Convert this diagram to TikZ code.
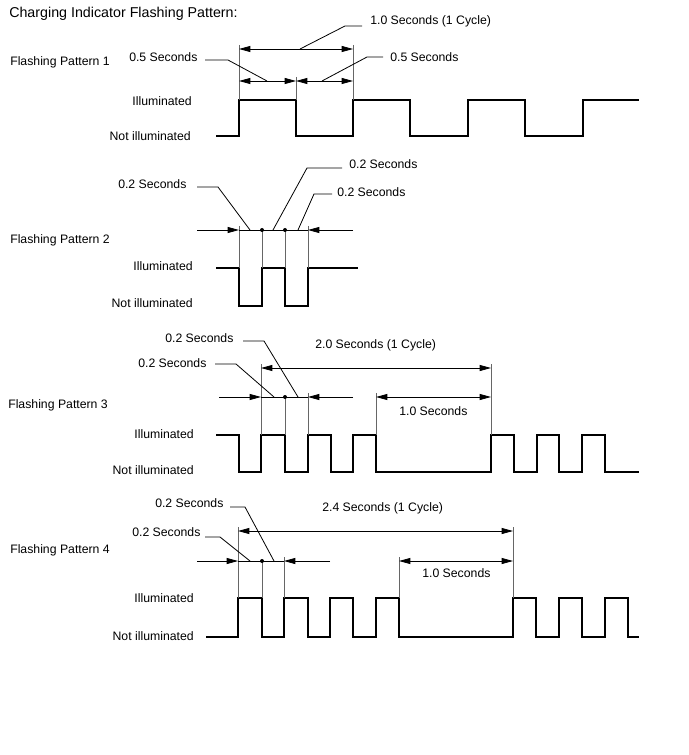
\documentclass[tikz,border=0pt]{standalone}
\usepackage{fontspec}
\setmainfont{Liberation Sans}
\usepackage{tikz}
\usetikzlibrary{arrows.meta}

\tikzset{
  lbl/.style={anchor=west, inner sep=0pt, font=\fontsize{9.2pt}{10pt}\selectfont},
  rlbl/.style={anchor=east, inner sep=0pt, font=\fontsize{9.2pt}{10pt}\selectfont},
  wave/.style={line width=2.1pt, line join=miter, line cap=rect},
  dimline/.style={line width=0.6pt},
  extline/.style={line width=0.5pt, black!60},
  leadline/.style={line width=0.6pt},
  pt/.style={circle, fill, inner sep=0pt, minimum size=3pt}
}

\begin{document}
\begin{tikzpicture}[x=0.75pt, y=-0.75pt, >={Triangle[length=8.5pt,width=4.5pt]}]
\useasboundingbox (0,0) rectangle (688,755);
\node [anchor=west, inner sep=0pt, font=\fontsize{10.7pt}{12pt}\selectfont] (title) at (9,14) {Charging Indicator Flashing Pattern:};

	% Pattern 1
\node [lbl] (f1) at (10,62) {Flashing Pattern 1};
\node [rlbl] (on1) at (192,101) {Illuminated};
\node [rlbl] (off1) at (191,136) {Not illuminated};
\node [lbl] (c1) at (370,21) {1.0 Seconds (1 Cycle)};
\node [lbl] (h1) at (129,57) {0.5 Seconds};
\node [lbl] (h2) at (390,57) {0.5 Seconds};
\draw [wave] (217,136) -- (239,136) -- (239,100) -- (296,100) -- (296,136) -- (353,136) -- (353,100) -- (410,100) -- (410,136) -- (468,136) -- (468,100) -- (525,100) -- (525,136) -- (583,136) -- (583,100) -- (638,100);
\coordinate (e1) at (239,45);
\coordinate (e2) at (353,45);
\coordinate (e3) at (296,77);
\coordinate (e1b) at (239,100);
\coordinate (e2b) at (353,100);
\coordinate (e3b) at (296,100);
\draw [extline] (e1) -- (e1b);
\draw [extline] (e2) -- (e2b);
\draw [extline] (e3) -- (e3b);
\coordinate (d1) at (239,49);
\coordinate (d2) at (353,49);
\coordinate (d3) at (239,81);
\coordinate (d4) at (296,81);
\coordinate (d5) at (353,81);
\draw [dimline, <->] (d1) -- (d2);
\draw [dimline, <->] (d3) -- (d4);
\draw [dimline, <->] (d4) -- (d5);
\coordinate (k1) at (362,26);
\coordinate (k2) at (345,26);
\coordinate (k3) at (300,49);
\draw [leadline] (k1) -- (k2) -- (k3);
\coordinate (k4) at (205,60);
\coordinate (k5) at (228,60);
\coordinate (k6) at (267,81);
\draw [leadline] (k4) -- (k5) -- (k6);
\coordinate (k7) at (383,57);
\coordinate (k8) at (367,57);
\coordinate (k9) at (322,81);
\draw [leadline] (k7) -- (k8) -- (k9);

	% Pattern 2
\node [lbl] (f2) at (10,240) {Flashing Pattern 2};
\node [rlbl] (on2) at (193,266) {Illuminated};
\node [rlbl] (off2) at (193,303) {Not illuminated};
\node [lbl] (t1) at (118,184) {0.2 Seconds};
\node [lbl] (t2) at (349,164) {0.2 Seconds};
\node [lbl] (t3) at (337,192) {0.2 Seconds};
\draw [wave] (217,268) -- (239,268) -- (239,306) -- (262,306) -- (262,268) -- (285,268) -- (285,306) -- (308,306) -- (308,268) -- (357,268);
\coordinate (u1) at (239,226);
\coordinate (u2) at (262,230);
\coordinate (u3) at (285,230);
\coordinate (u4) at (308,226);
\coordinate (u1b) at (239,268);
\coordinate (u2b) at (262,268);
\coordinate (u3b) at (285,268);
\coordinate (u4b) at (308,268);
\draw [extline] (u1) -- (u1b);
\draw [extline] (u2) -- (u2b);
\draw [extline] (u3) -- (u3b);
\draw [extline] (u4) -- (u4b);
\coordinate (g1) at (197,230);
\coordinate (g2) at (239,230);
\coordinate (g3) at (308,230);
\coordinate (g4) at (353,230);
\draw [dimline, ->] (g1) -- (g2);
\draw [dimline] (g2) -- (g3);
\draw [dimline, ->] (g4) -- (g3);
\node [pt] (p1) at (u2) {};
\node [pt] (p2) at (u3) {};
\coordinate (m1) at (197,187);
\coordinate (m2) at (218,187);
\coordinate (m3) at (250,230);
\draw [leadline] (m1) -- (m2) -- (m3);
\coordinate (m4) at (342,168);
\coordinate (m5) at (307,168);
\coordinate (m6) at (273,230);
\draw [leadline] (m4) -- (m5) -- (m6);
\coordinate (m7) at (332,194);
\coordinate (m8) at (314,194);
\coordinate (m9) at (298,230);
\draw [leadline] (m7) -- (m8) -- (m9);

	% Pattern 3
\node [lbl] (f3) at (8,405) {Flashing Pattern 3};
\node [rlbl] (on3) at (194,434) {Illuminated};
\node [rlbl] (off3) at (194,470) {Not illuminated};
\node [lbl] (r1) at (165,338) {0.2 Seconds};
\node [lbl] (r2) at (138,363) {0.2 Seconds};
\node [lbl] (c3) at (315,345) {2.0 Seconds (1 Cycle)};
\node [lbl] (o3) at (399,411) {1.0 Seconds};
\draw [wave] (217,435) -- (239,435) -- (239,472) -- (261,472) -- (261,435) -- (285,435) -- (285,472) -- (308,472) -- (308,435) -- (331,435) -- (331,472) -- (353,472) -- (353,435) -- (376,435) -- (376,472) -- (491,472) -- (491,435) -- (514,435) -- (514,472) -- (537,472) -- (537,435) -- (559,435) -- (559,472) -- (582,472) -- (582,435) -- (605,435) -- (605,472) -- (638,472);
\coordinate (v1) at (261,364);
\coordinate (v2) at (285,397);
\coordinate (v3) at (308,393);
\coordinate (v4) at (376,393);
\coordinate (v5) at (491,364);
\coordinate (v1b) at (261,435);
\coordinate (v2b) at (285,435);
\coordinate (v3b) at (308,435);
\coordinate (v4b) at (376,435);
\coordinate (v5b) at (491,435);
\draw [extline] (v1) -- (v1b);
\draw [extline] (v2) -- (v2b);
\draw [extline] (v3) -- (v3b);
\draw [extline] (v4) -- (v4b);
\draw [extline] (v5) -- (v5b);
\coordinate (w1) at (219,397);
\coordinate (w2) at (261,397);
\coordinate (w3) at (308,397);
\coordinate (w4) at (353,397);
\draw [dimline, ->] (w1) -- (w2);
\draw [dimline] (w2) -- (w3);
\draw [dimline, ->] (w4) -- (w3);
\node [pt] (p3) at (v2) {};
\coordinate (w5) at (261,368);
\coordinate (w6) at (491,368);
\draw [dimline, <->] (w5) -- (w6);
\coordinate (w7) at (376,397);
\coordinate (w8) at (491,397);
\draw [dimline, <->] (w7) -- (w8);
\coordinate (q1) at (243,341);
\coordinate (q2) at (264,341);
\coordinate (q3) at (298,397);
\draw [leadline] (q1) -- (q2) -- (q3);
\coordinate (q4) at (215,364);
\coordinate (q5) at (236,364);
\coordinate (q6) at (274,397);
\draw [leadline] (q4) -- (q5) -- (q6);

	% Pattern 4
\node [lbl] (f4) at (10,550) {Flashing Pattern 4};
\node [rlbl] (on4) at (194,598) {Illuminated};
\node [rlbl] (off4) at (194,636) {Not illuminated};
\node [lbl] (s1) at (155,503) {0.2 Seconds};
\node [lbl] (s2) at (132,532) {0.2 Seconds};
\node [lbl] (c4) at (322,508) {2.4 Seconds (1 Cycle)};
\node [lbl] (o4) at (422,573) {1.0 Seconds};
\draw [wave] (207,637) -- (238,637) -- (238,598) -- (262,598) -- (262,637) -- (284,637) -- (284,598) -- (308,598) -- (308,637) -- (330,637) -- (330,598) -- (353,598) -- (353,637) -- (376,637) -- (376,598) -- (399,598) -- (399,637) -- (513,637) -- (513,598) -- (536,598) -- (536,637) -- (559,637) -- (559,598) -- (582,598) -- (582,637) -- (605,637) -- (605,598) -- (628,598) -- (628,637) -- (638,637);
\coordinate (x1) at (238,527);
\coordinate (x2) at (262,561);
\coordinate (x3) at (284,557);
\coordinate (x4) at (399,557);
\coordinate (x5) at (513,527);
\coordinate (x1b) at (238,598);
\coordinate (x2b) at (262,598);
\coordinate (x3b) at (284,598);
\coordinate (x4b) at (399,598);
\coordinate (x5b) at (513,598);
\draw [extline] (x1) -- (x1b);
\draw [extline] (x2) -- (x2b);
\draw [extline] (x3) -- (x3b);
\draw [extline] (x4) -- (x4b);
\draw [extline] (x5) -- (x5b);
\coordinate (y1) at (197,561);
\coordinate (y2) at (238,561);
\coordinate (y3) at (284,561);
\coordinate (y4) at (330,561);
\draw [dimline, ->] (y1) -- (y2);
\draw [dimline] (y2) -- (y3);
\draw [dimline, ->] (y4) -- (y3);
\node [pt] (p4) at (x2) {};
\coordinate (y5) at (238,531);
\coordinate (y6) at (513,531);
\draw [dimline, <->] (y5) -- (y6);
\coordinate (y7) at (399,561);
\coordinate (y8) at (513,561);
\draw [dimline, <->] (y7) -- (y8);
\coordinate (z1) at (230,507);
\coordinate (z2) at (245,507);
\coordinate (z3) at (274,561);
\draw [leadline] (z1) -- (z2) -- (z3);
\coordinate (z4) at (205,537);
\coordinate (z5) at (220,537);
\coordinate (z6) at (250,561);
\draw [leadline] (z4) -- (z5) -- (z6);
\end{tikzpicture}
\end{document}
